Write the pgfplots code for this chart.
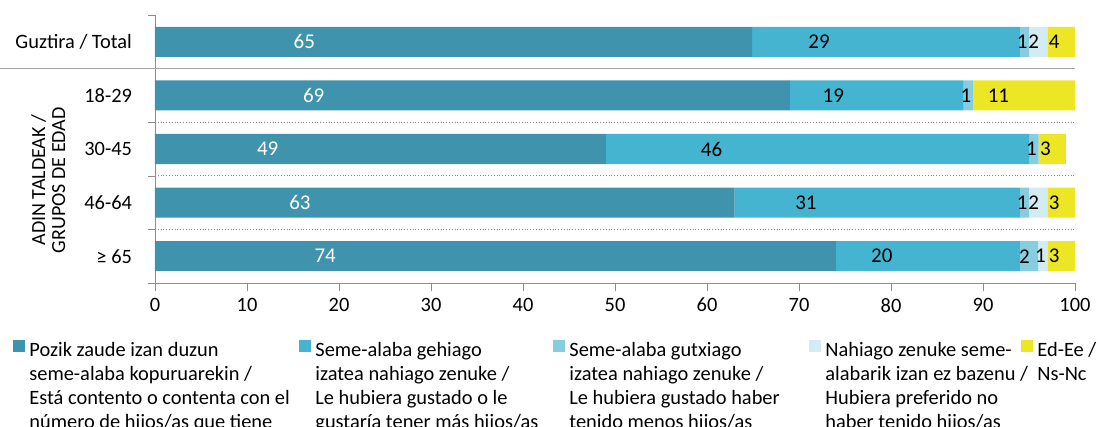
\documentclass[border=0pt]{standalone}
\usepackage{pgfplots}
\pgfplotsset{compat=1.18}
\usepackage{pgfplotstable}
\usepackage{fontspec}
\setmainfont{Carlito}

\definecolor{c1}{HTML}{3F93AD}
\definecolor{c2}{HTML}{45B4D0}
\definecolor{c3}{HTML}{86CDE0}
\definecolor{c4}{HTML}{D3ECF4}
\definecolor{c5}{HTML}{EDE625}
\definecolor{axgray}{HTML}{8C8C8C}

% segment values (a..e) and printed labels (al..el)
\pgfplotstableread{
pos a    al b    bl c    cl d dl e    el
0   64.9 65 29.1 29 1    1  2 2  3    4
1   69   69 18.9 19 1    1  0 0  11.1 11
2   49   49 46   46 1.05 1  0 0  2.95 3
3   63   63 31   31 1    1  2 2  3    3
4   74   74 20   20 2    2  1 1  3    3
}\data

\newcommand{\lgtext}[2]{\makebox[#1][l]{\begin{tabular}[t]{@{}l@{}}#2\end{tabular}}}

\begin{document}
\begin{tikzpicture}
\begin{axis}[
  scale only axis, width=460pt, height=134pt,
  xbar stacked, bar width=0.56,
  xmin=0, xmax=100, ymin=-0.5, ymax=4.5, y dir=reverse,
  axis x line*=bottom, axis y line*=left,
  axis line style={draw=axgray, -},
  tick style={draw=axgray},
  xtick={0,10,...,100}, tick align=outside,
  major tick length=4pt, minor tick length=3.5pt,
  ytick={0,...,4},
  yticklabels={Guztira / Total, 18-29, 30-45, 46-64, ≥ 65},
  major y tick style={draw=none},
  minor ytick={-0.5,0.5,1.5,2.5,3.5,4.5},
  yticklabel style={xshift=-4pt},
  font=\fontsize{10.2}{12}\selectfont,
  /pgf/number format/assume math mode=true,
  clip=false,
  point meta=explicit,
  nodes near coords={\pgfmathfloatifflags{\pgfplotspointmeta}{0}{}{\pgfmathprintnumber{\pgfplotspointmeta}}},
  every node near coord/.append style={anchor=center, xshift={-\seg*1.15pt}, font=\fontsize{10.5}{12}\selectfont},
  legend style={at={(0,0)}, anchor=north west, xshift=-71pt, yshift=-26pt,
    draw=none, fill=none, inner sep=0pt, legend columns=5,
    /tikz/every even column/.append style={column sep=0pt},
    cells={anchor=north west, inner xsep=3pt, inner ysep=0pt},
    font=\fontsize{10.2}{12}\selectfont},
  legend image code/.code={\fill[#1] (0pt,-8.5pt) rectangle (6pt,-2.5pt);},
]
\draw[axgray!80] (axis cs:-16.8,0.5) -- (axis cs:100,0.5);
\draw[axgray, densely dotted] (axis cs:0,1.5) -- (axis cs:100,1.5);
\draw[axgray, densely dotted] (axis cs:0,2.5) -- (axis cs:100,2.5);
\draw[axgray, densely dotted] (axis cs:0,3.5) -- (axis cs:100,3.5);

\addplot[fill=c1, draw=none, visualization depends on={\thisrow{a} \as \seg},
  every node near coord/.append style={text=white}]
  table[x=a, y=pos, meta=al] {\data};
\addlegendentry{\lgtext{133pt}{Pozik zaude izan duzun\\ seme-alaba kopuruarekin /\\ Está contento o contenta con el\\ número de hijos/as que tiene}}
\addplot[fill=c2, draw=none, visualization depends on={\thisrow{b} \as \seg}]
  table[x=b, y=pos, meta=bl] {\data};
\addlegendentry{\lgtext{117pt}{Seme-alaba gehiago\\ izatea nahiago zenuke /\\ Le hubiera gustado o le\\ gustaría tener más hijos/as}}
\addplot[fill=c3, draw=none, visualization depends on={\thisrow{c} \as \seg}]
  table[x=c, y=pos, meta=cl] {\data};
\addlegendentry{\lgtext{118pt}{Seme-alaba gutxiago\\ izatea nahiago zenuke /\\ Le hubiera gustado haber\\ tenido menos hijos/as}}
\addplot[fill=c4, draw=none, visualization depends on={\thisrow{d} \as \seg}]
  table[x=d, y=pos, meta=dl] {\data};
\addlegendentry{\lgtext{96pt}{Nahiago zenuke seme-\\ alabarik izan ez bazenu /\\ Hubiera preferido no\\ haber tenido hijos/as}}
\addplot[fill=c5, draw=none, visualization depends on={\thisrow{e} \as \seg}]
  table[x=e, y=pos, meta=el] {\data};
\addlegendentry{\lgtext{30pt}{Ed-Ee /\\ Ns-Nc}}

\node[rotate=90, align=center, font=\fontsize{10}{10}\selectfont] at (axis cs:-11.6,2.58) {ADIN TALDEAK /\\GRUPOS DE EDAD};
\end{axis}
\pgfresetboundingbox
\useasboundingbox (-77.5pt,-72pt) rectangle (471.5pt,141.5pt);
\end{tikzpicture}
\end{document}
